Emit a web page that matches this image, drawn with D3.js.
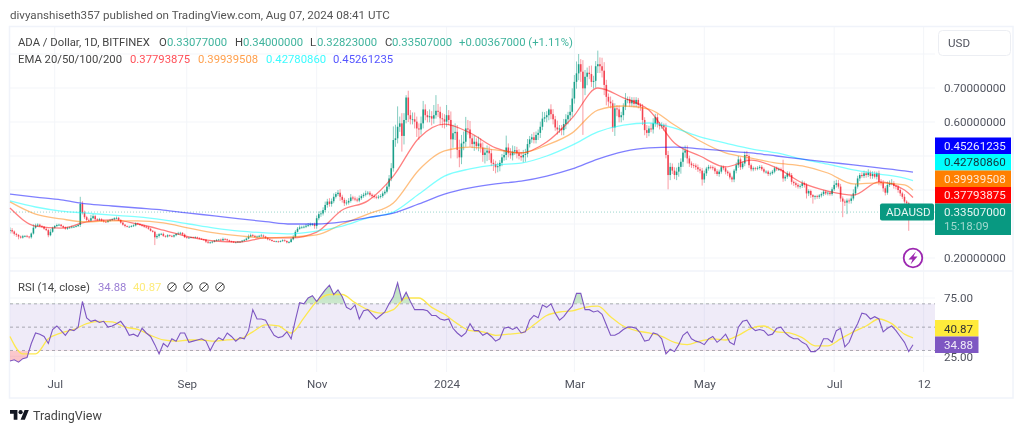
<!DOCTYPE html>
<html>
<head>
<meta charset="utf-8">
<script src="https://cdn.jsdelivr.net/npm/d3@7"></script>
<style>
  html, body { margin: 0; padding: 0; background: #fff; overflow: hidden; }
  svg { display: block; filter: blur(.3px); }
  text { font-family: Roboto, sans-serif; }
</style>
</head>
<body>
<svg id="chart" width="1024" height="432"></svg>
<script>
// daily candles, first one is 10 Jun 2023, last one 7 Aug 2024
const firstDay = Date.UTC(2023, 5, 10);

const closes = [
  .282,.278,.271,.268,.263,.260,.264,.265,.263,.261,.272,.289,.295,.298,.294,.292,.286,.282,.267,.277,.289,.294,.297,.298,.294,
  .290,.286,.289,.290,.292,.292,.294,.297,.359,.333,.320,.312,.310,.317,.323,.314,.312,.314,.310,.307,.306,.310,.312,.314,.317,
  .318,.312,.304,.298,.294,.292,.292,.294,.296,.302,.300,.297,.295,.292,.290,.286,.280,.277,.261,.265,.270,.271,.265,.263,.267,
  .265,.263,.267,.271,.272,.274,.269,.261,.259,.260,.261,.260,.261,.259,.257,.255,.254,.248,.245,.246,.248,.251,.253,.254,.252,
  .256,.255,.252,.249,.248,.246,.246,.248,.248,.251,.253,.257,.263,.267,.265,.262,.263,.265,.266,.263,.259,.255,.253,.250,.249,
  .249,.248,.250,.252,.250,.246,.247,.255,.262,.277,.286,.290,.290,.292,.295,.297,.299,.299,.294,.317,.329,.331,.341,.356,.366,
  .359,.367,.380,.388,.392,.380,.371,.361,.363,.368,.378,.375,.372,.369,.376,.382,.386,.390,.392,.386,.382,.380,.378,.380,.382,
  .390,.395,.410,.434,.464,.547,.552,.586,.596,.559,.606,.672,.620,.608,.608,.601,.581,.578,.596,.637,.620,.614,.617,.610,.620,
  .633,.630,.611,.608,.601,.620,.606,.549,.567,.571,.518,.496,.537,.542,.581,.578,.552,.535,.542,.529,.537,.525,.503,.510,.516,
  .508,.480,.476,.467,.470,.480,.496,.503,.525,.508,.502,.513,.517,.508,.500,.496,.503,.506,.535,.549,.555,.547,.562,.568,.586,
  .610,.614,.620,.637,.623,.608,.584,.578,.581,.576,.594,.608,.620,.630,.669,.718,.743,.770,.748,.699,.733,.745,.741,.718,.721,
  .764,.770,.764,.751,.709,.674,.660,.655,.584,.640,.637,.614,.620,.645,.665,.667,.655,.665,.653,.665,.650,.645,.606,.576,.568,
  .581,.578,.596,.614,.594,.588,.591,.584,.503,.444,.468,.457,.444,.454,.468,.483,.510,.516,.493,.478,.473,.472,.467,.461,.457,
  .431,.449,.463,.468,.467,.464,.455,.447,.454,.467,.464,.454,.449,.437,.431,.457,.473,.490,.467,.478,.503,.500,.473,.461,.464,
  .463,.465,.468,.461,.454,.454,.447,.449,.454,.464,.461,.461,.459,.434,.439,.449,.444,.424,.420,.415,.410,.412,.420,.415,.390,
  .397,.385,.380,.382,.380,.384,.388,.395,.390,.392,.388,.402,.415,.420,.410,.375,.366,.363,.369,.368,.375,.390,.410,.434,.444,
  .441,.449,.444,.451,.441,.447,.439,.449,.424,.421,.405,.392,.415,.420,.420,.412,.410,.400,.390,.380,.366,.361,.320,.33077,.33507
];

// wicks above and below the body, in thousandths of a dollar
const upperWicks = [
  8,6,3,3,2,3,4,2,3,2,3,10,6,4,3,3,2,3,4,8,3,3,4,3,2,
  2,3,3,2,3,2,4,3,21,8,6,4,4,10,6,4,3,4,3,3,3,2,3,3,3,
  4,3,2,2,2,2,3,3,3,3,2,2,2,2,3,3,2,2,3,6,3,3,4,2,3,
  2,3,2,2,5,3,2,3,2,2,2,2,3,2,2,2,2,2,2,2,2,2,3,2,3,
  4,3,2,2,2,2,2,2,2,2,3,3,6,5,4,3,3,3,5,3,2,2,2,2,2,
  2,2,2,3,3,2,3,3,5,5,5,6,5,4,5,6,5,4,5,8,8,8,8,10,8,
  10,8,10,6,8,10,6,6,8,8,10,5,6,6,8,6,6,8,5,5,4,5,4,5,6,
  6,6,8,10,15,40,40,60,20,30,20,7,20,15,20,20,15,15,20,25,15,12,20,15,30,
  46,20,15,15,15,30,15,25,25,25,20,30,25,30,34,25,25,10,18,10,20,15,15,15,15,
  12,12,10,10,10,8,10,15,35,12,15,18,12,10,12,12,15,15,15,10,10,15,10,10,15,
  20,15,12,3,15,15,10,20,10,10,15,15,10,20,30,20,35,30,15,34,20,15,20,25,15,
  15,40,20,25,25,15,10,15,10,15,10,12,10,10,20,8,8,8,8,8,6,6,8,8,15,
  8,15,15,10,10,6,8,5,12,12,12,10,10,12,12,10,15,15,15,8,6,6,6,8,6,
  8,8,5,6,5,5,5,6,6,5,5,5,4,5,5,5,8,10,6,6,10,12,5,5,5,
  4,5,5,5,5,4,4,5,5,5,5,5,5,30,5,6,5,6,4,5,5,5,8,5,5,
  5,4,3,3,4,4,5,5,4,4,3,6,12,10,10,8,6,6,6,6,10,12,8,8,6,
  8,8,6,10,6,8,8,5,8,8,8,6,10,8,12,6,4,4,5,5,8,4,4,5,5
];
const lowerWicks = [
  10,6,5,6,8,3,3,3,3,4,4,3,3,3,3,3,3,3,6,3,3,3,3,3,3,
  3,3,3,3,3,3,2,3,6,5,5,4,4,3,3,4,3,3,3,3,3,3,3,3,3,
  3,3,3,3,4,2,2,2,3,3,3,2,3,3,3,3,2,2,23,5,5,3,3,3,3,
  3,2,3,3,3,3,3,2,2,2,2,2,2,2,2,2,3,4,3,3,3,2,2,2,2,
  2,3,3,2,2,2,2,2,3,2,2,2,2,2,3,3,2,2,2,3,3,3,2,2,2,
  2,3,2,2,2,3,3,2,3,3,2,3,3,3,4,4,4,4,8,8,6,8,6,6,8,
  8,8,6,5,6,12,8,8,6,6,5,6,5,5,5,5,5,5,5,5,5,5,5,5,5,
  5,5,5,8,8,10,20,15,15,46,25,10,20,15,15,20,25,30,15,15,15,15,15,20,15,
  10,15,20,25,20,15,15,56,25,20,25,29,20,20,15,15,25,12,20,10,15,15,20,25,25,
  20,10,20,18,15,15,10,10,15,12,10,15,10,15,10,10,15,20,10,10,10,10,10,15,15,
  10,10,15,15,15,15,10,15,10,15,15,15,15,15,15,15,20,20,30,137,20,25,15,15,20,
  20,20,20,20,30,25,15,15,13,25,20,15,15,15,10,10,10,10,10,10,10,12,15,15,15,
  10,8,12,10,10,10,8,10,10,42,15,10,12,15,15,20,15,15,15,10,8,8,8,8,8,
  18,10,8,6,6,6,8,6,8,6,6,8,8,6,8,8,8,8,8,6,8,12,8,6,6,
  6,5,5,5,5,6,6,5,4,5,5,5,5,10,8,6,6,8,8,8,6,6,6,8,15,
  8,8,20,8,6,6,6,6,5,6,5,5,5,8,6,10,46,10,34,8,8,6,6,6,8,
  5,6,8,6,8,8,5,8,10,8,10,8,6,6,6,8,8,8,8,6,6,8,40,8,3
];

// EMAs read every 12 days, plus the last day
const emaDays = d3.range(0, 421, 12).concat(424);
const ema20 = [.347,.294,.288,.306,.312,.300,.282,.262,.250,.247,.259,.259,.276,.341,.368,.441,.553,.594,.568,.524,.509,.541,.612,.700,.671,.635,.538,.500,.468,.488,.465,.421,.397,.385,.424,.400,.37793875];
const ema50 = [.365,.329,.315,.306,.309,.309,.303,.288,.274,.265,.259,.262,.268,.300,.329,.362,.459,.515,.526,.518,.509,.532,.568,.635,.647,.638,.591,.544,.509,.494,.479,.471,.450,.418,.421,.415,.39939508];
const ema100 = [.368,.350,.338,.332,.326,.321,.312,.300,.288,.279,.274,.271,.279,.294,.318,.335,.388,.441,.462,.474,.479,.500,.532,.571,.591,.597,.582,.556,.538,.521,.509,.491,.476,.459,.447,.435,.4278086];
const ema200 = [.388,.379,.371,.359,.353,.347,.341,.332,.324,.315,.307,.300,.300,.306,.319,.332,.359,.388,.406,.418,.426,.441,.462,.491,.513,.524,.526,.521,.515,.509,.500,.491,.482,.474,.465,.456,.45261235];

// RSI read every second day
const rsiValues = [
  21,22,20,23,24,36,45,44,42,36,48,51,47,43,48,47,50,72,58,55,56,54,55,50,51,53,55,50,43,44,42,49,45,42,35,27,36,33,40,38,
  45,45,37,38,39,40,38,30,37,41,39,45,42,38,41,40,47,65,57,57,56,49,43,41,42,46,40,56,71,70,75,77,72,77,82,86,78,82,
  76,67,65,69,57,64,65,61,57,60,63,70,76,88,73,80,72,65,65,65,64,60,60,57,56,57,49,45,42,45,53,47,47,43,45,42,38,40,49,50,
  48,50,45,46,56,60,58,69,67,70,62,56,59,64,68,79,79,65,65,63,64,61,52,43,43,45,48,50,50,49,45,38,39,45,44,40,27,31,29,35,
  43,46,40,38,37,35,40,42,37,40,44,37,35,50,55,56,50,47,48,47,43,44,49,50,45,42,40,40,37,35,29,29,32,40,40,37,47,49,33,37,
  46,53,62,61,57,59,57,46,49,51,47,42,37,29,34.88
];
// RSI moving average read every 6 days, plus the last day
const rsiMaDays = d3.range(0, 421, 6).concat(424);
const rsiMaValues = [
  42,27,27,40,45,48,53,55,54.5,50,48,43,39,38,39,39,38,39,40,46,52,51,45,58,72,78,
  78,71,65,62,65,75,75,67,61,53,47,46,43,44,45,52,60,63,64,67,68,59,51,47,45,42,37,
  35,38,40,39,43,49,51,46,45,41,34,34,40,46,51,57,53,44,40.87
];

const priceTicks = [.2, .6, .7];
const priceGrid = [.2, .3, .4, .5, .6, .7, .8];
const rsiTicks = [75, 25];
const rsiLevels = [70, 50, 30];
const timeTicks = [
  Date.UTC(2023, 6, 1), Date.UTC(2023, 8, 1), Date.UTC(2023, 10, 1), Date.UTC(2024, 0, 1),
  Date.UTC(2024, 2, 1), Date.UTC(2024, 4, 1), Date.UTC(2024, 6, 1), Date.UTC(2024, 7, 12)
];
const timeLabels = ["Jul", "Sep", "Nov", "2024", "Mar", "May", "Jul", "12"];

const upColor = "#089981", downColor = "#f23645";
const emaColors = ["#ff0000", "#ff8000", "#00ffff", "#0000ff"];
const rsiColor = "#7e57c2", rsiMaColor = "#fde84f";
const axisFont = 11.6;

const paneLeft = 10, paneRight = 935, frameRight = 1013;
const priceTop = 27, priceBottom = 271, rsiBottom = 372, frameBottom = 398;

const dayDate = d => d3.utcDay.offset(new Date(firstDay), d);
const x = d3.scaleUtc().domain([dayDate(0), dayDate(424)]).range([10, 913]);
const y = d3.scaleLinear().domain([.2, .7]).range([258, 88]);
const yRsi = d3.scaleLinear().domain([25, 75]).range([356.3, 298]);

const svg = d3.select("#chart");
const defs = svg.append("defs");
defs.append("clipPath").attr("id", "pane")
    .append("rect").attr("x", paneLeft).attr("y", priceTop)
    .attr("width", paneRight - paneLeft).attr("height", rsiBottom - priceTop);

function fadeGradient(id, color, topOpacity, bottomOpacity)
{
  let g = defs.append("linearGradient").attr("id", id).attr("x1", 0).attr("x2", 0).attr("y1", 0).attr("y2", 1);
  g.append("stop").attr("offset", 0).attr("stop-color", color).attr("stop-opacity", topOpacity);
  g.append("stop").attr("offset", 1).attr("stop-color", color).attr("stop-opacity", bottomOpacity);
}
fadeGradient("overbought", "#4caf50", .38, .02);
fadeGradient("oversold", "#f23645", .05, .3);

// header
svg.append("text").attr("x", 10).attr("y", 19).attr("font-size", 11.6).attr("fill", "#555")
    .text("divyanshiseth357 published on TradingView.com, Aug 07, 2024 08:41 UTC");

// frame and grid
svg.append("rect").attr("x", 9.5).attr("y", 26.5).attr("width", frameRight - 9.5).attr("height", frameBottom - 26.5)
    .attr("fill", "none").attr("stroke", "#f0f3fa").attr("stroke-width", 1.5);
svg.append("line").attr("x1", paneLeft).attr("x2", frameRight).attr("y1", priceBottom).attr("y2", priceBottom)
    .attr("stroke", "#f0f3fa").attr("stroke-width", 1.5);

const grid = svg.append("g").attr("stroke", "#f3f5f9").attr("stroke-width", 1);
grid.selectAll(".v").data(timeTicks).join("line").attr("class", "v")
    .attr("x1", d => x(d)).attr("x2", d => x(d)).attr("y1", priceTop).attr("y2", rsiBottom);
grid.selectAll(".h").data(priceGrid).join("line").attr("class", "h")
    .attr("x1", paneLeft).attr("x2", paneRight).attr("y1", d => y(d)).attr("y2", d => y(d));
grid.selectAll(".r").data(rsiTicks).join("line").attr("class", "r")
    .attr("x1", paneLeft).attr("x2", paneRight).attr("y1", d => yRsi(d)).attr("y2", d => yRsi(d));

// last price line
svg.append("line").attr("x1", paneLeft).attr("x2", paneRight).attr("y1", y(.33507)).attr("y2", y(.33507))
    .attr("stroke", upColor).attr("stroke-opacity", .4).attr("stroke-dasharray", "1 2");

// candles
const candles = closes.map((c, i) => {
  let o = i ? closes[i - 1] : c;
  if (i == closes.length - 1) o = .33077;
  return {
    day: i, open: o, close: c,
    high: Math.max(o, c) + upperWicks[i] / 1000,
    low: Math.min(o, c) - lowerWicks[i] / 1000
  };
});
const candleG = svg.append("g").attr("clip-path", "url(#pane)");
const candleColor = d => d.close >= d.open ? upColor : downColor;
candleG.selectAll(".wick").data(candles).join("line").attr("class", "wick")
    .attr("x1", d => x(dayDate(d.day))).attr("x2", d => x(dayDate(d.day)))
    .attr("y1", d => y(d.high)).attr("y2", d => y(d.low))
    .attr("stroke", candleColor).attr("stroke-width", .9).attr("stroke-opacity", .55);
candleG.selectAll(".body").data(candles).join("rect").attr("class", "body")
    .attr("x", d => x(dayDate(d.day)) - .8).attr("width", 1.6)
    .attr("y", d => y(Math.max(d.open, d.close)))
    .attr("height", d => Math.max(.8, Math.abs(y(d.open) - y(d.close))))
    .attr("fill", candleColor).attr("fill-opacity", .88);

// EMAs
const emaLine = d3.line().x((d, i) => x(dayDate(emaDays[i]))).y(d => y(d)).curve(d3.curveMonotoneX);
[ema20, ema50, ema100, ema200].forEach((values, i) => {
  svg.append("path").datum(values).attr("d", emaLine).attr("fill", "none")
      .attr("stroke", emaColors[i]).attr("stroke-width", 1.3).attr("stroke-opacity", .5);
});

// RSI pane
svg.append("rect").attr("x", paneLeft).attr("width", paneRight - paneLeft)
    .attr("y", yRsi(70)).attr("height", yRsi(30) - yRsi(70)).attr("fill", rsiColor).attr("fill-opacity", .12);

const rsiPoints = rsiValues.map((v, i) => ({ day: i * 2, value: v }));
defs.append("clipPath").attr("id", "aboveBand").append("rect")
    .attr("x", paneLeft).attr("width", paneRight - paneLeft).attr("y", yRsi(100)).attr("height", yRsi(70) - yRsi(100));
defs.append("clipPath").attr("id", "belowBand").append("rect")
    .attr("x", paneLeft).attr("width", paneRight - paneLeft).attr("y", yRsi(30)).attr("height", yRsi(0) - yRsi(30));
const rsiArea = level => d3.area().x(d => x(dayDate(d.day))).y0(yRsi(level)).y1(d => yRsi(d.value));
svg.append("path").datum(rsiPoints).attr("d", rsiArea(70)).attr("fill", "url(#overbought)").attr("clip-path", "url(#aboveBand)");
svg.append("path").datum(rsiPoints).attr("d", rsiArea(30)).attr("fill", "url(#oversold)").attr("clip-path", "url(#belowBand)");

svg.append("g").selectAll("line").data(rsiLevels).join("line")
    .attr("x1", paneLeft).attr("x2", paneRight).attr("y1", d => yRsi(d)).attr("y2", d => yRsi(d))
    .attr("stroke", "#787b86").attr("stroke-opacity", .6).attr("stroke-dasharray", "3 3");

svg.append("path").datum(rsiMaValues)
    .attr("d", d3.line().x((d, i) => x(dayDate(rsiMaDays[i]))).y(d => yRsi(d)).curve(d3.curveMonotoneX))
    .attr("fill", "none").attr("stroke", rsiMaColor).attr("stroke-width", 1.3);
svg.append("path").datum(rsiPoints)
    .attr("d", d3.line().x(d => x(dayDate(d.day))).y(d => yRsi(d.value)))
    .attr("fill", "none").attr("stroke", rsiColor).attr("stroke-width", 1.1);

// axes
const priceAxis = svg.append("g").attr("transform", `translate(${paneRight},0)`)
    .call(d3.axisRight(y).tickValues(priceTicks).tickSize(0).tickPadding(9).tickFormat(d3.format(".8f")));
const rsiAxis = svg.append("g").attr("transform", `translate(${paneRight},0)`)
    .call(d3.axisRight(yRsi).tickValues(rsiTicks).tickSize(0).tickPadding(9).tickFormat(d3.format(".2f")));
const timeAxis = svg.append("g").attr("transform", `translate(0,${rsiBottom})`)
    .call(d3.axisBottom(x).tickValues(timeTicks).tickSize(0).tickPadding(8).tickFormat((d, i) => timeLabels[i]));
[priceAxis, rsiAxis, timeAxis].forEach(a => {
  a.select(".domain").remove();
  a.selectAll("text").attr("fill", "#50535e").attr("font-size", axisFont).attr("font-family", "Roboto, sans-serif");
});

// USD button
svg.append("rect").attr("x", 938.5).attr("y", 30.5).attr("width", 72).attr("height", 25).attr("rx", 4)
    .attr("fill", "#fff").attr("stroke", "#eceef3");
svg.append("text").attr("x", 948).attr("y", 47).attr("font-size", axisFont).attr("fill", "#50535e").text("USD");

// price tags
const priceTags = [
  { top: 137.5, h: 16.5, bg: "#0000ff", fg: "#e8e8ff", label: "0.45261235" },
  { top: 154, h: 16.5, bg: "#00ffff", fg: "#12323a", label: "0.42780860" },
  { top: 170.5, h: 16.5, bg: "#ff7f00", fg: "#ffe8d0", label: "0.39939508" },
  { top: 187, h: 16.5, bg: "#ff0000", fg: "#ffe4e4", label: "0.37793875" },
  { top: 203.5, h: 31.5, bg: upColor, fg: "#e6f5f2", label: "0.33507000" }
];
priceTags.forEach(t => {
  svg.append("rect").attr("x", paneRight).attr("y", t.top).attr("width", 76).attr("height", t.h).attr("fill", t.bg);
  svg.append("text").attr("x", 944).attr("y", t.top + 12.3).attr("font-size", axisFont).attr("fill", t.fg).text(t.label);
});
svg.append("text").attr("x", 944).attr("y", 230).attr("font-size", axisFont).attr("fill", "#9fd8cd").text("15:18:09");
svg.append("rect").attr("x", 880).attr("y", 203.5).attr("width", 54).attr("height", 17).attr("rx", 2).attr("fill", upColor);
svg.append("text").attr("x", 886).attr("y", 216).attr("font-size", axisFont).attr("fill", "#e6f5f2").text("ADAUSD");

// RSI tags
svg.append("rect").attr("x", paneRight).attr("y", 320).attr("width", 43.5).attr("height", 16.5).attr("fill", "#ffeb3b");
svg.append("text").attr("x", 944).attr("y", 332.5).attr("font-size", axisFont).attr("fill", "#333").text("40.87");
svg.append("rect").attr("x", paneRight).attr("y", 336.5).attr("width", 43.5).attr("height", 16.5).attr("fill", rsiColor);
svg.append("text").attr("x", 944).attr("y", 349).attr("font-size", axisFont).attr("fill", "#f0ecf8").text("34.88");

// legend
const legendGreen = "#3eb39c";
function legend(items, ly)
{
  items.forEach(it => {
    svg.append("text").attr("x", it[0]).attr("y", ly).attr("font-size", 11.3).attr("fill", it[2]).text(it[1]);
  });
}
legend([
  [18, "ADA / Dollar, 1D, BITFINEX", "#444"],
  [159, "O", "#444"], [167, "0.33077000", legendGreen],
  [235, "H", "#444"], [243, "0.34000000", legendGreen],
  [310, "L", "#444"], [317, "0.32823000", legendGreen],
  [385, "C", "#444"], [392, "0.33507000", legendGreen],
  [459, "+0.00367000 (+1.11%)", legendGreen]
], 46);
legend([
  [18, "EMA 20/50/100/200", "#444"],
  [130, "0.37793875", "#ff5059"], [198, "0.39939508", "#ffa04d"],
  [266, "0.42780860", "#3dfbff"], [333, "0.45261235", "#5555ff"]
], 63);
legend([
  [18, "RSI (14, close)", "#444"],
  [98, "34.88", "#9b7fd4"], [133, "40.87", "#fdeb7a"]
], 291);

const naIcons = svg.append("g").attr("fill", "none").attr("stroke", "#444").attr("stroke-width", 1);
[172, 188, 204, 220].forEach(cx => {
  naIcons.append("circle").attr("cx", cx).attr("cy", 287).attr("r", 4.2);
  naIcons.append("line").attr("x1", cx - 3.2).attr("x2", cx + 3.2).attr("y1", 290.2).attr("y2", 283.8);
});

// lightning badge
svg.append("circle").attr("cx", 913).attr("cy", 258).attr("r", 9.3).attr("fill", "#fff")
    .attr("stroke", "#9c27b0").attr("stroke-width", 1.8);
svg.append("path").attr("d", "M916 251.5 L908.5 259.5 L912.5 259.5 L910.5 264.5 L917.5 256.5 L913.5 256.5 Z").attr("fill", "#9c27b0");

// footer logo
svg.append("g").attr("transform", "translate(10,408) scale(.53)").attr("fill", "#131722").call(g => {
  g.append("path").attr("d", "M14 22H7V11H0V4h14v18zM28 22h-8l7.5-18h8L28 22z");
  g.append("circle").attr("cx", 20).attr("cy", 8).attr("r", 4);
});
svg.append("text").attr("x", 33).attr("y", 420).attr("font-size", 12.5).attr("fill", "#444").text("TradingView");
</script>
</body>
</html>
